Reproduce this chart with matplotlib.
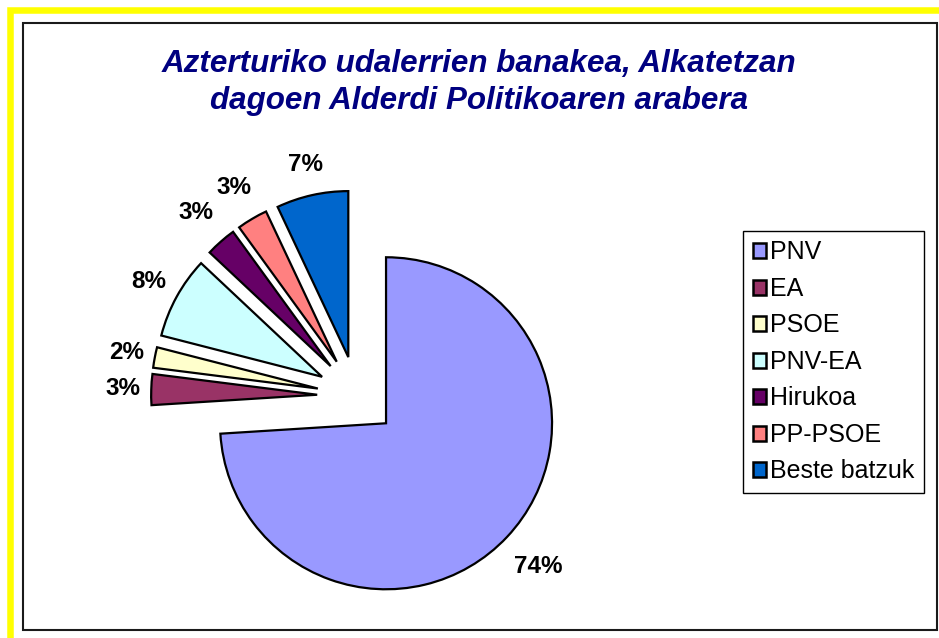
import numpy as np
import matplotlib
matplotlib.use('Agg')
import matplotlib.pyplot as plt
from matplotlib.patches import Rectangle

parties = ['PNV', 'EA', 'PSOE', 'PNV-EA', 'Hirukoa', 'PP-PSOE', 'Beste batzuk']
shares = [74, 3, 2, 8, 3, 3, 7]
colors = ['#9999FF', '#993366', '#FFFFCC', '#CCFFFF', '#660066', '#FF8080', '#0066CC']
title = 'Azterturiko udalerrien banakea, Alkatetzan\ndagoen Alderdi Politikoaren arabera'

plt.rcParams['font.family'] = ['Liberation Sans', 'DejaVu Sans']

W, H = 939, 638
fig = plt.figure(figsize=(W / 100, H / 100), dpi=100)

# yellow frame (right and bottom sides are cut off in the original)
fig.patches.append(Rectangle((9.5 / W, -0.5), 2, 1.5 - 10 / H, transform=fig.transFigure,
                             fill=False, edgecolor='#FFFF00', linewidth=4.7))
# chart area border
fig.patches.append(Rectangle((22.5 / W, 1 - 630 / H), (937 - 22.5) / W, (630 - 22.5) / H,
                             transform=fig.transFigure, fill=False, edgecolor='#1a1a1a', linewidth=1.5))

ax = fig.add_axes([0, 0, 1, 1])
wedges, _ = ax.pie(shares, colors=colors, startangle=90, counterclock=False,
                   explode=[0.24] * len(shares),
                   wedgeprops=dict(edgecolor='black', linewidth=1.6))

# percentage labels, distance in pie radii from each slice's own centre
dists = [1.26, 1.17, 1.17, 1.19, 1.23, 1.22, 1.19]
for w, v, d in zip(wedges, shares, dists):
    ang = np.deg2rad((w.theta1 + w.theta2) / 2)
    cx, cy = w.center
    ax.text(cx + d * np.cos(ang), cy + d * np.sin(ang), f'{v}%', ha='center', va='center',
            fontsize=17.5, fontweight='bold', color='black')

r_px = 166
ax.set_xlim(-357 / r_px, (W - 357) / r_px)
ax.set_ylim(-(H - 396) / r_px, 396 / r_px)
ax.set_aspect('auto')
ax.axis('off')

leg = ax.legend(wedges, parties, loc='upper left', bbox_to_anchor=(743 / W, 1 - 231 / H),
                bbox_transform=fig.transFigure, borderaxespad=0, fontsize=18,
                frameon=True, fancybox=False, framealpha=1, edgecolor='black',
                handlelength=0.55, handleheight=0.55, handletextpad=0.15,
                labelspacing=0.5, borderpad=0.38)
leg.get_frame().set_linewidth(1.0)
for h in leg.legend_handles:
    h.set_linewidth(1.8)

fig.text(479 / W, 1 - 49 / H, title, ha='center', va='top', fontsize=22.6, fontweight='bold',
         style='italic', color='#000080', linespacing=1.3)

fig.savefig('out.png', dpi=100, facecolor='white')
